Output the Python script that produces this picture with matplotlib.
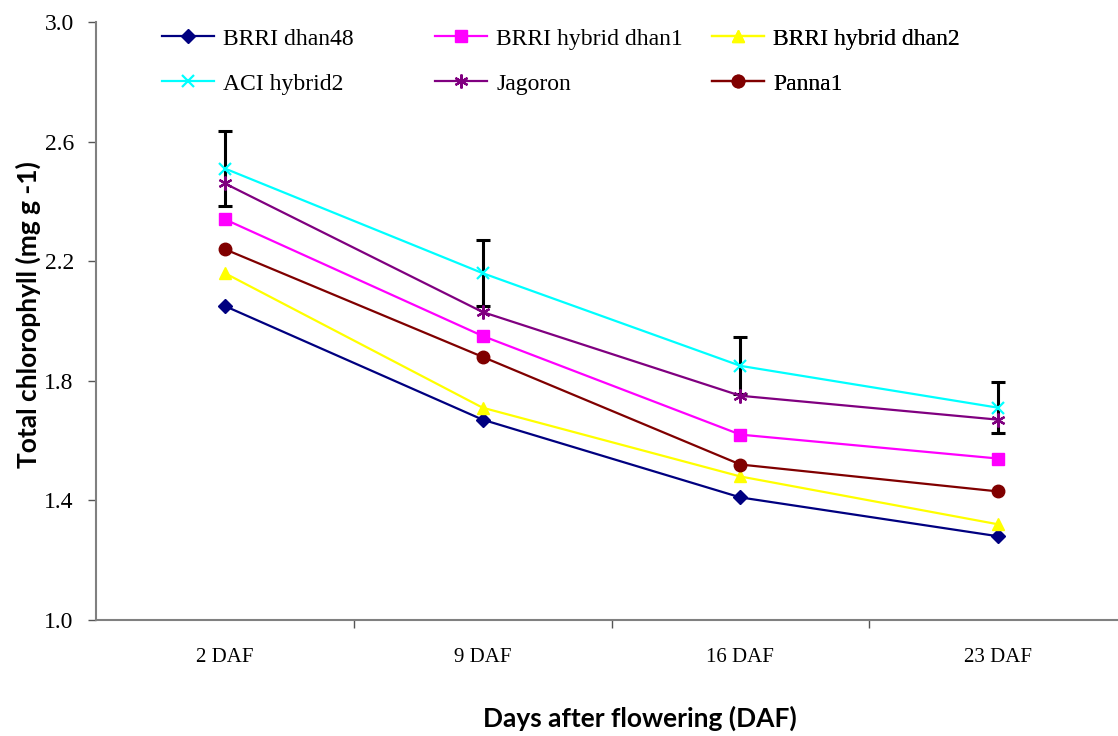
import matplotlib
matplotlib.use("Agg")
import matplotlib.pyplot as plt

# ── Data ──────────────────────────────────────────────────────────────────────
stages = ["2 DAF", "9 DAF", "16 DAF", "23 DAF"]

brri_dhan48 = [2.05, 1.67, 1.41, 1.28]
brri_hybrid_dhan1 = [2.34, 1.95, 1.62, 1.54]
brri_hybrid_dhan2 = [2.16, 1.71, 1.48, 1.32]
aci_hybrid2 = [2.51, 2.16, 1.85, 1.71]
jagoron = [2.46, 2.03, 1.75, 1.67]
panna1 = [2.24, 1.88, 1.52, 1.43]

# error bars are only drawn on the ACI hybrid2 series
aci_err = [0.125, 0.11, 0.095, 0.085]

series = [
    ("BRRI dhan48", brri_dhan48, "#000080", "D", 7),
    ("BRRI hybrid dhan1", brri_hybrid_dhan1, "#FF00FF", "s", 9),
    ("BRRI hybrid dhan2", brri_hybrid_dhan2, "#FFFF00", "^", 9),
    ("ACI hybrid2", aci_hybrid2, "#00FFFF", "x", 9),
    ("Jagoron", jagoron, "#800080", (6, 2, 0), 10),
    ("Panna1", panna1, "#800000", "o", 9),
]

SERIF = ["Liberation Serif", "DejaVu Serif"]
LABEL_FONT = ["Lato", "DejaVu Sans"]

fig = plt.figure(figsize=(11.18, 7.36), dpi=100)
ax = fig.add_axes([96 / 1118, 1 - 620 / 736, (1127 - 96) / 1118, 598 / 736])

x = list(range(len(stages)))

ax.errorbar(x, aci_hybrid2, yerr=aci_err, fmt="none", ecolor="black",
            elinewidth=2.2, capsize=5, capthick=2.2, zorder=2)

handles = []
for name, vals, color, marker, ms in series:
    mew = 1.6 if marker == "x" or isinstance(marker, tuple) else 1
    line, = ax.plot(x, vals, color=color, linewidth=1.6, marker=marker,
                    markersize=ms, markeredgewidth=mew, markeredgecolor=color,
                    markerfacecolor=color, label=name, zorder=3)
    handles.append(line)

yticks = [1.0, 1.4, 1.8, 2.2, 2.6, 3.0]
ax.set_xlim(-0.5, len(stages) - 0.5)
ax.set_ylim(1.0, 3.0)
ax.set_yticks(yticks)
ax.set_yticklabels([f"{v:.1f}" for v in yticks], family=SERIF, fontsize=17)
ax.set_xticks(x)
ax.set_xticklabels(stages, family=SERIF, fontsize=15)
ax.tick_params(axis="x", which="major", length=0, pad=20)
ax.set_xticks([i + 0.5 for i in x[:-1]], minor=True)
ax.tick_params(axis="x", which="minor", length=6, width=1, color="#555555")
ax.tick_params(axis="y", length=6, width=1, color="#555555", pad=10)

for side in ("top", "right"):
    ax.spines[side].set_visible(False)
for side in ("left", "bottom"):
    ax.spines[side].set_color("#808080")
    ax.spines[side].set_linewidth(1.5)

fig.text(28 / 1118, 1 - 315 / 736, "Total chlorophyll (mg g -1)",
         family=LABEL_FONT, fontweight="bold", fontsize=19,
         rotation=90, ha="center", va="center")
fig.text(640 / 1118, 1 - 718 / 736, "Days after flowering (DAF)",
         family=LABEL_FONT, fontweight="bold", fontsize=19,
         ha="center", va="center")

# legend: three columns, placed as separate legends
col_x = [162, 435, 712]
for i, cx in enumerate(col_x):
    leg = ax.legend(handles=[handles[i], handles[i + 3]], loc="upper left",
                    bbox_to_anchor=(cx / 1118, 1 - 28 / 736),
                    bbox_transform=fig.transFigure, frameon=False,
                    prop={"family": SERIF, "size": 17}, handlelength=2.2,
                    handletextpad=0.4, labelspacing=1.0, borderpad=0,
                    borderaxespad=0)
    ax.add_artist(leg)

fig.savefig("out.png", dpi=100)
